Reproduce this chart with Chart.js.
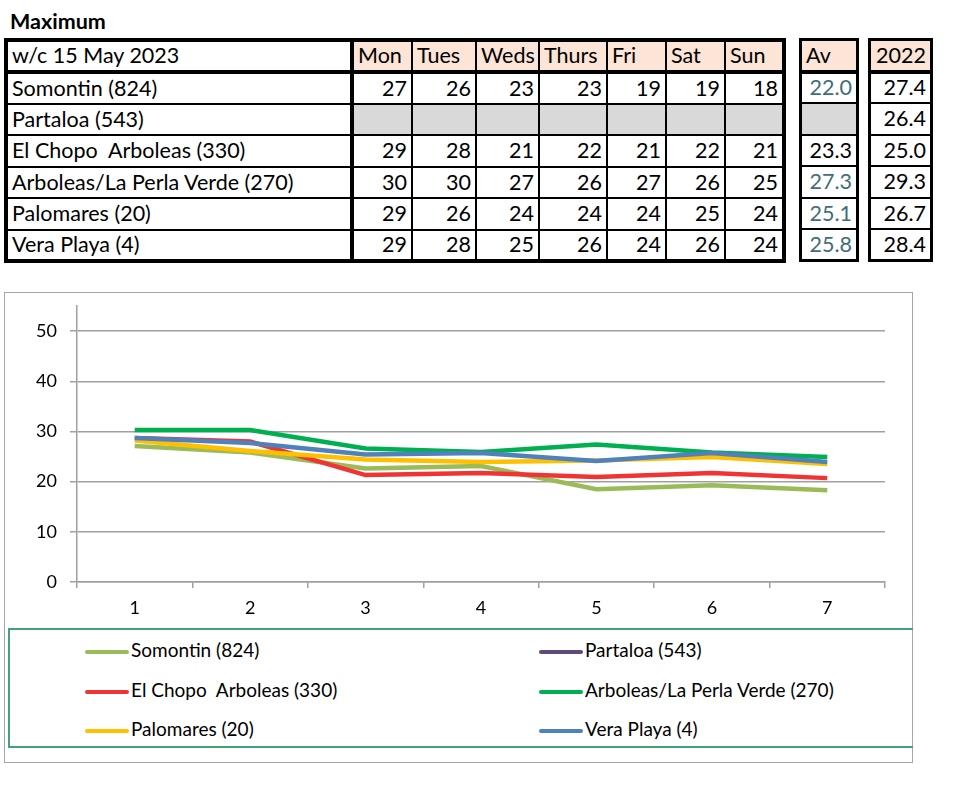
<!DOCTYPE html>
<html>
<head>
<meta charset="utf-8">
<script src="https://cdn.jsdelivr.net/npm/chart.js@4.4.0/dist/chart.umd.min.js"></script>
<style>
body{margin:0;background:#fff;font-family:Lato,sans-serif;color:#000;}
#title{position:absolute;left:10px;top:8px;font-weight:bold;font-size:21.5px;}
table{position:absolute;top:38px;border-collapse:collapse;table-layout:fixed;font-size:21.5px;}
td{border:2px solid #000;padding:0 4px;white-space:pre;overflow:hidden;line-height:1;}
tr{height:31.5px;}
tr.head{height:32px;}
tr.head td{background:#fce4d6;border-bottom-width:4px;}
tr.head td.plain{background:#fff;}
td.num{text-align:right;}
td.empty{background:#d9d9d9;}
#main{left:4px;width:778px;border:4px solid #000;}
#main td.name{border-right-width:4px;}
#av{left:799px;width:60px;border:3px solid #000;}
#last{left:868px;width:65px;border:3px solid #000;}
#chartBox{position:absolute;left:4px;top:292px;width:909px;height:471px;box-sizing:border-box;border:1px solid #a6a6a6;}
#canvasWrap{position:absolute;left:0;top:0;width:907px;height:335px;}
#legend{position:absolute;left:3px;top:335px;width:905px;height:120px;box-sizing:border-box;border:2px solid #45a276;border-right:none;font-size:19px;}
.item{position:absolute;height:24px;line-height:24px;white-space:pre;}
.item span.swatch{display:inline-block;width:44px;height:4px;border-radius:2px;vertical-align:middle;margin-right:2px;}
</style>
</head>
<body>
<div id="title">Maximum</div>
<table id="main"></table>
<table id="av"></table>
<table id="last"></table>

<div id="chartBox">
  <div id="canvasWrap"><canvas id="chart"></canvas></div>
  <div id="legend"></div>
</div>

<script>
// table data
const weekLabel = "w/c 15 May 2023";
const days = ["Mon", "Tues", "Weds", "Thurs", "Fri", "Sat", "Sun"];
const stations = ["Somontin (824)", "Partaloa (543)", "El Chopo  Arboleas (330)",
    "Arboleas/La Perla Verde (270)", "Palomares (20)", "Vera Playa (4)"];
const dailyMax = [
    [27, 26, 23, 23, 19, 19, 18],
    null,
    [29, 28, 21, 22, 21, 22, 21],
    [30, 30, 27, 26, 27, 26, 25],
    [29, 26, 24, 24, 24, 25, 24],
    [29, 28, 25, 26, 24, 26, 24]
];
const averages = ["22.0", null, "23.3", "27.3", "25.1", "25.8"];
const lastYear = ["27.4", "26.4", "25.0", "29.3", "26.7", "28.4"];

// chart data (values as plotted)
const xLabels = ["1", "2", "3", "4", "5", "6", "7"];
const somontin = [27.1, 25.8, 22.6, 23.1, 18.5, 19.3, 18.3];
const partaloa = [null, null, null, null, null, null, null];
const elChopo = [28.7, 28.0, 21.3, 21.7, 20.9, 21.7, 20.7];
const laPerla = [30.3, 30.3, 26.6, 25.9, 27.4, 25.8, 24.9];
const palomares = [28.2, 26.1, 24.4, 23.9, 24.2, 24.9, 23.5];
const veraPlaya = [28.7, 27.7, 25.4, 25.7, 24.1, 25.7, 23.9];
const yTicks = [0, 10, 20, 30, 40, 50];

const avColours = ["#3f6e78", null, "#000", "#3f6e78", "#3f6e78", "#3f6e78"];
const lineColours = ["#9bbb59", "#604a7b", "#f03434", "#00b050", "#ffc000", "#4f81bd"];

// ---- tables ----
const main = document.getElementById("main");
const colWidths = [346, 60, 64, 63, 68, 59, 59, 59];
let html = "<colgroup>";
colWidths.forEach(function(w){ html += '<col style="width:' + w + 'px">'; });
html += "</colgroup>";
html += '<tr class="head"><td class="name plain">' + weekLabel + "</td>";
days.forEach(function(d){ html += "<td>" + d + "</td>"; });
html += "</tr>";
for(let i = 0; i < stations.length; i++){
    html += '<tr><td class="name">' + stations[i] + "</td>";
    for(let j = 0; j < days.length; j++){
        if(dailyMax[i] === null){
            html += '<td class="empty"></td>';
        } else {
            html += '<td class="num">' + dailyMax[i][j] + "</td>";
        }
    }
    html += "</tr>";
}
main.innerHTML = html;

let avHtml = '<tr class="head"><td>Av</td></tr>';
for(let i = 0; i < averages.length; i++){
    if(averages[i] === null){
        avHtml += '<tr><td class="empty"></td></tr>';
    } else {
        avHtml += '<tr><td class="num" style="color:' + avColours[i] + '">' + averages[i] + "</td></tr>";
    }
}
document.getElementById("av").innerHTML = avHtml;

let lastHtml = '<tr class="head"><td class="num">2022</td></tr>';
lastYear.forEach(function(v){ lastHtml += '<tr><td class="num">' + v + "</td></tr>"; });
document.getElementById("last").innerHTML = lastHtml;

// ---- chart ----
const series = [somontin, partaloa, elChopo, laPerla, palomares, veraPlaya];
const datasets = series.map(function(values, i){
    return {
        label: stations[i],
        data: values,
        borderColor: lineColours[i],
        backgroundColor: lineColours[i],
        borderWidth: 4.5,
        pointRadius: 0,
        tension: 0,
        order: series.length - i
    };
});

const gridGrey = "#a0a0a0";
const chart = new Chart(document.getElementById("chart"), {
    type: "line",
    data: { labels: xLabels, datasets: datasets },
    options: {
        responsive: true,
        maintainAspectRatio: false,
        animation: false,
        layout: { padding: { top: 13, right: 27, left: 0, bottom: 0 } },
        plugins: { legend: { display: false }, tooltip: { enabled: false } },
        scales: {
            x: {
                type: "category",
                offset: true,
                grid: { offset: true, drawOnChartArea: false, tickLength: 6, color: gridGrey, lineWidth: 1.5 },
                border: { color: gridGrey, width: 1.5 },
                ticks: { color: "#000", font: { family: "Lato", size: 18 }, padding: 9, maxRotation: 0 },
                afterFit: function(scale){ scale.height = 46; }
            },
            y: {
                min: 0,
                max: 55,
                ticks: { stepSize: 10, color: "#000", font: { family: "Lato", size: 18 }, padding: 13 },
                afterBuildTicks: function(scale){
                    scale.ticks = yTicks.map(function(v){ return { value: v }; });
                },
                grid: { color: gridGrey, lineWidth: 1.5, tickLength: 7 },
                border: { color: gridGrey, width: 1.5 },
                afterFit: function(scale){
                    scale.width = 72;
                    scale.paddingTop = 0;
                    scale.paddingBottom = 0;
                }
            }
        }
    }
});

// legend in two columns, built from the chart's datasets
const legend = document.getElementById("legend");
chart.data.datasets.forEach(function(ds, i){
    const item = document.createElement("div");
    item.className = "item";
    item.style.left = (i % 2 === 0 ? 75 : 529) + "px";
    item.style.top = (8 + Math.floor(i / 2) * 39.5) + "px";
    item.innerHTML = '<span class="swatch" style="background:' + ds.borderColor + '"></span>' + ds.label;
    legend.appendChild(item);
});
</script>
</body>
</html>
